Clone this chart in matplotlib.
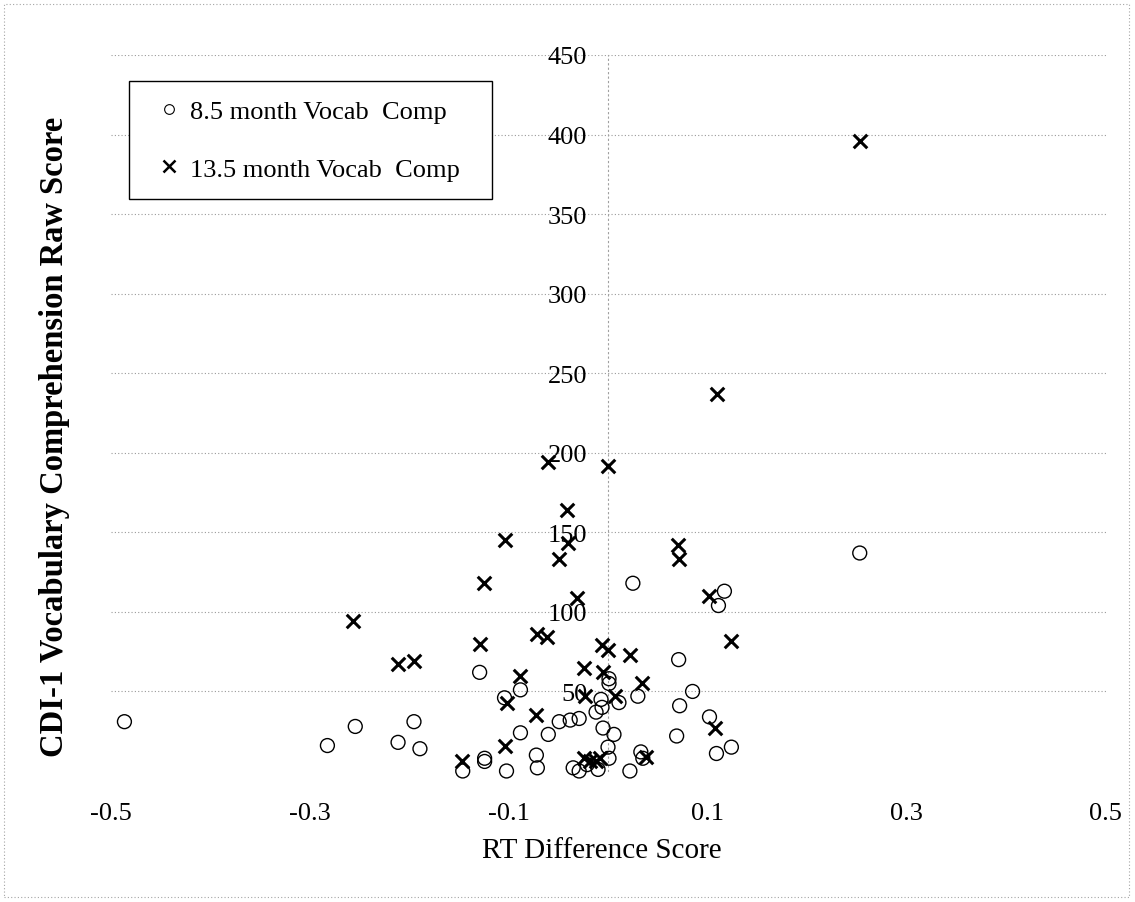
import matplotlib
matplotlib.use("Agg")
import matplotlib.pyplot as plt
from matplotlib.lines import Line2D
from matplotlib.patches import Rectangle

plt.rcParams["font.family"] = ["Liberation Serif", "DejaVu Serif"]

# 8.5 month vocab comprehension (circles)
rt_85 = [-0.486, -0.254, -0.282, -0.195, -0.211, -0.189, -0.129, -0.146, -0.124, -0.124,
         -0.102, -0.104, -0.088, -0.088, -0.072, -0.071, -0.060, -0.049, -0.038, -0.029,
         -0.035, -0.029, -0.007, -0.006, -0.012, 0.001, 0.001, 0.011, 0.030, -0.005,
         0.006, 0.000, 0.001, -0.010, -0.021, 0.022, 0.033, 0.035, 0.025, 0.117,
         0.111, 0.071, 0.085, 0.072, 0.102, 0.069, 0.124, 0.109, 0.253]
vocab_85 = [31, 28, 16, 31, 18, 14, 62, 0, 8, 6,
            0, 46, 51, 24, 10, 2, 23, 31, 32, 33,
            2, 0, 45, 40, 37, 58, 55, 43, 47, 27,
            23, 15, 8, 1, 4, 0, 12, 8, 118, 113,
            104, 70, 50, 41, 34, 22, 15, 11, 137]

# 13.5 month vocab comprehension (crosses)
rt_135 = [0.253, 0.110, 0.000, -0.060, -0.041, -0.104, -0.040, -0.049, 0.070, 0.071,
          -0.125, -0.031, 0.102, 0.124, -0.129, -0.071, -0.061, -0.211, -0.195, -0.256,
          -0.006, 0.000, 0.022, -0.024, -0.005, 0.034, -0.088, -0.102, -0.023, 0.007,
          -0.072, 0.108, -0.104, -0.147, 0.038, -0.024, -0.018, -0.012, -0.008]
vocab_135 = [396, 237, 192, 194, 164, 145, 143, 133, 142, 133,
             118, 109, 110, 82, 80, 86, 84, 67, 69, 94,
             79, 76, 73, 65, 62, 55, 60, 43, 47, 47,
             35, 27, 16, 6, 9, 8, 6, 6, 8]

x_ticks = [-0.5, -0.3, -0.1, 0.1, 0.3, 0.5]
x_labels = ["-0.5", "-0.3", "-0.1", "0.1", "0.3", "0.5"]
y_ticks = [50, 100, 150, 200, 250, 300, 350, 400, 450]

W, H = 1135, 903
fig = plt.figure(figsize=(W / 100, H / 100), dpi=100)
ax = fig.add_axes([110.5 / W, 131 / H, 995 / W, 716 / H])
ax.set_xlim(-0.5, 0.5)
ax.set_ylim(0, 450)

# gridlines
for yv in y_ticks:
    ax.axhline(yv, color="#9a9a9a", lw=0.8, ls=(0, (1, 2)), zorder=0)

ax.scatter(rt_85, vocab_85, s=100, marker="o", facecolors="none", edgecolors="black",
           linewidths=1.0, clip_on=False, zorder=3)
ax.scatter(rt_135, vocab_135, s=95, marker="x", color="black", linewidths=2.2,
           clip_on=False, zorder=4)

for side in ["top", "right", "bottom"]:
    ax.spines[side].set_visible(False)
ax.spines["left"].set_position(("data", 0))
ax.spines["left"].set_color("#a0a0a0")
ax.spines["left"].set_linestyle((0, (1, 3)))
ax.spines["left"].set_linewidth(0.8)

ax.set_yticks(y_ticks)
ax.set_yticklabels([str(v) for v in y_ticks])
ax.set_xticks(x_ticks)
ax.set_xticklabels(x_labels)
ax.tick_params(axis="y", length=0, pad=15, labelsize=19)
ax.tick_params(axis="x", length=0, pad=22, labelsize=19)

fig.text(602 / W, 1 - 851 / H, "RT Difference Score", ha="center", va="center", fontsize=21)
fig.text(55 / W, 1 - 437 / H, "CDI-1 Vocabulary Comprehension Raw Score", rotation=90,
         ha="center", va="center", fontsize=23.5, fontweight="bold")

handles = [
    Line2D([], [], ls="none", marker="o", markersize=7, markerfacecolor="none",
           markeredgecolor="black", markeredgewidth=0.8),
    Line2D([], [], ls="none", marker="x", markersize=8, color="black", markeredgewidth=1.8),
]
leg = ax.legend(handles, ["8.5 month Vocab  Comp", "13.5 month Vocab  Comp"],
                loc="upper left", mode="expand",
                bbox_to_anchor=(129 / W, 1 - 82 / H - 0.01, 363 / W, 0.01),
                bbox_transform=fig.transFigure, borderaxespad=0, fontsize=19,
                frameon=True, fancybox=False, edgecolor="black", framealpha=1,
                borderpad=0.7, handlelength=1.6, handletextpad=0.0, labelspacing=1.3)
leg.get_frame().set_linewidth(1.0)

# faint dotted chart border
fig.add_artist(Rectangle((4 / W, 5 / H), 1125 / W, 893 / H, transform=fig.transFigure,
                         fill=False, ls=(0, (1, 2)), color="#a5a5a5", lw=0.8))

fig.savefig("out.png", dpi=100)
